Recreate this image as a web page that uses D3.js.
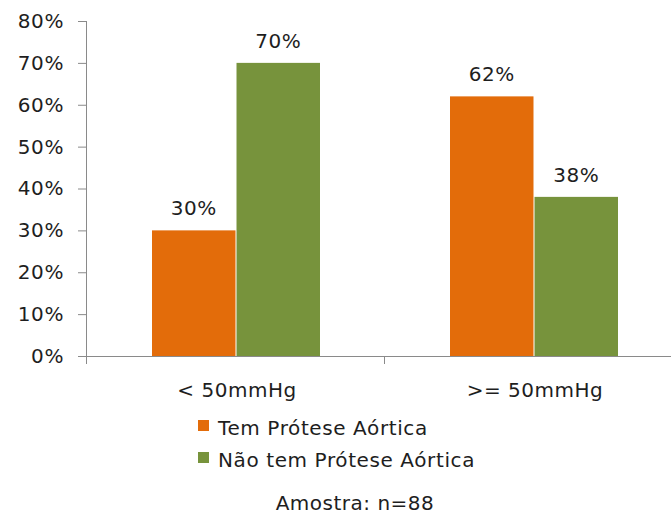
<!DOCTYPE html>
<html>
<head>
<meta charset="utf-8">
<script src="https://cdn.jsdelivr.net/npm/d3@7"></script>
<style>
  body { margin: 0; background: #fff; }
  svg text { font-family: "DejaVu Sans", Verdana, sans-serif; fill: #1e1e1e; font-size: 20px; }
</style>
</head>
<body>
<svg id="chart" width="671" height="519"></svg>
<script>
// Pressure groups on the x axis
const categories = ["< 50mmHg", ">= 50mmHg"];
// Series (percent of sample)
const seriesNames = ["Tem Prótese Aórtica", "Não tem Prótese Aórtica"];
const seriesTem = [30, 62];
const seriesNao = [70, 38];
const seriesColors = ["#E36C0A", "#77933C"];
const yTicks = [0, 10, 20, 30, 40, 50, 60, 70, 80];
const note = "Amostra: n=88";

const svg = d3.select("#chart");

const plot = { left: 86, right: 682, top: 21, bottom: 356 };
const groupWidth = 168;

const x0 = d3.scaleBand().domain(categories).range([plot.left, plot.right]);
const x1 = d3.scaleBand().domain(seriesNames).range([0, groupWidth]).paddingInner(0.012);
const y = d3.scaleLinear().domain([0, 80]).range([plot.bottom, plot.top]);

const rows = categories.map((c, i) => ({ cat: c, values: [seriesTem[i], seriesNao[i]] }));

// Y axis
const yAxis = svg.append("g")
  .attr("transform", `translate(${plot.left},0)`)
  .call(d3.axisLeft(y).tickValues(yTicks).tickFormat(d => d + "%").tickSize(8).tickSizeOuter(0));
yAxis.select(".domain").attr("stroke", "#8a8a8a").attr("d", `M0.5,${plot.top}V${plot.bottom + 8}`);
yAxis.selectAll(".tick line").attr("stroke", "#8a8a8a");
yAxis.selectAll(".tick text")
  .attr("x", -22)
  .attr("font-size", null)
  .attr("font-family", null)
  .style("font-size", "20px")
  .style("letter-spacing", "0.6px");

// X axis with category boundary ticks
const xAxis = svg.append("g").attr("transform", `translate(0,${plot.bottom})`);
xAxis.append("line")
  .attr("x1", plot.left - 8).attr("x2", plot.right)
  .attr("y1", 0.5).attr("y2", 0.5)
  .attr("stroke", "#8a8a8a");
xAxis.selectAll("line.b")
  .data(categories.slice(1))
  .join("line")
  .attr("class", "b")
  .attr("x1", d => x0(d) + 0.5).attr("x2", d => x0(d) + 0.5)
  .attr("y1", 0).attr("y2", 8)
  .attr("stroke", "#8a8a8a");
xAxis.selectAll("text")
  .data(categories)
  .join("text")
  .attr("x", d => x0(d) + x0.bandwidth() / 2 + 2)
  .attr("y", 41)
  .attr("text-anchor", "middle")
  .style("letter-spacing", "0.5px")
  .text(d => d);

// Bars
const groups = svg.append("g").selectAll("g")
  .data(rows)
  .join("g")
  .attr("transform", d => `translate(${x0(d.cat) + (x0.bandwidth() - groupWidth) / 2 + 1},0)`);

groups.selectAll("rect")
  .data(d => d.values.map((v, j) => ({ v, s: seriesNames[j], j })))
  .join("rect")
  .attr("x", d => x1(d.s))
  .attr("width", x1.bandwidth())
  .attr("y", d => y(d.v))
  .attr("height", d => y(0) - y(d.v))
  .attr("fill", d => seriesColors[d.j]);

groups.selectAll("text")
  .data(d => d.values.map((v, j) => ({ v, s: seriesNames[j], j })))
  .join("text")
  .attr("x", d => x1(d.s) + x1.bandwidth() / 2)
  .attr("y", d => y(d.v) - 15)
  .attr("text-anchor", "middle")
  .style("letter-spacing", "0.5px")
  .text(d => d.v + "%");

// Legend
const legend = svg.append("g").attr("transform", "translate(198,420)");
const items = legend.selectAll("g")
  .data(seriesNames)
  .join("g")
  .attr("transform", (d, i) => `translate(0,${i * 32})`);
items.append("rect")
  .attr("width", 11).attr("height", 11)
  .attr("fill", (d, i) => seriesColors[i]);
items.append("text")
  .attr("x", 20).attr("y", 15)
  .style("letter-spacing", "0.6px")
  .text(d => d);

// Sample size note
svg.append("text")
  .attr("x", 355).attr("y", 510)
  .attr("text-anchor", "middle")
  .style("letter-spacing", "0.5px")
  .text(note);
</script>
</body>
</html>
